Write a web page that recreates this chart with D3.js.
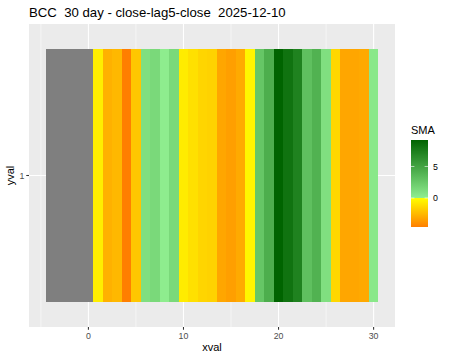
<!DOCTYPE html>
<html><head><meta charset="utf-8">
<script src="https://cdn.jsdelivr.net/npm/d3@7"></script>
<style>body{margin:0;background:#fff}svg text{font-family:"Liberation Sans",Arial,sans-serif}</style>
</head><body><svg id="c" width="450" height="360"></svg>
<script>
const title = "BCC  30 day - close-lag5-close  2025-12-10";
const xvals = d3.range(-4, 31);
const smaVals = [null,null,null,null,null,
  -0.6,-2.8,-2.55,-4.6,-2.0,1.0,1.4,0.1,1.4,-0.7,
  -1.1,-1.5,-1.6,-3.2,-3.45,-3.05,-0.35,2.7,4.3,9.2,
  8.2,7.2,3.1,4.0,1.0,-1.45,-3.2,-3.2,-3.1,0.4];
const xTicks = [0,10,20,30];
const xMinor = [-5,5,15,25];
const yCats = ["1"];
const legendTicks = [0,5];

const svg = d3.select("#c");
const P = {l:29, r:395, t:24, b:327};
const xMin = -4.5, xMax = 30.5, ext = (xMax-xMin)*0.05;
const x = d3.scaleLinear().domain([xMin-ext, xMax+ext]).range([P.l, P.r]);
const y = d3.scaleLinear().domain([0.4,1.6]).range([P.b, P.t]);

const vmin = d3.min(smaVals), vmax = d3.max(smaVals);
const neg = d3.scaleLinear().domain([vmin,0]).range(["#ff7f00","#ffff00"]).interpolate(d3.interpolateRgb);
const pos = d3.scaleLinear().domain([0,vmax]).range(["#90ee90","#006400"]).interpolate(d3.interpolateRgb);
const fill = v => v==null ? "#7f7f7f" : (v<0 ? neg(v) : pos(v));

// panel
svg.append("rect").attr("x",P.l).attr("y",P.t).attr("width",P.r-P.l).attr("height",P.b-P.t).attr("fill","#ebebeb");
svg.selectAll(".mn").data(xMinor).join("line").attr("x1",d=>x(d)).attr("x2",d=>x(d)).attr("y1",P.t).attr("y2",P.b).attr("stroke","#fff").attr("stroke-width",0.53);
svg.selectAll(".mj").data(xTicks).join("line").attr("x1",d=>x(d)).attr("x2",d=>x(d)).attr("y1",P.t).attr("y2",P.b).attr("stroke","#fff").attr("stroke-width",1.07);
svg.append("line").attr("x1",P.l).attr("x2",P.r).attr("y1",y(1)).attr("y2",y(1)).attr("stroke","#fff").attr("stroke-width",1.07);

// tiles
svg.selectAll(".t").data(xvals.map((xv,i)=>({x:xv,v:smaVals[i]}))).join("rect")
  .attr("x",d=>x(d.x-0.5)).attr("width",d=>x(d.x+0.5)-x(d.x-0.5))
  .attr("y",y(1.5)).attr("height",y(0.5)-y(1.5))
  .attr("fill",d=>fill(d.v)).attr("shape-rendering","crispEdges");

// x axis
const xa = svg.append("g");
xTicks.forEach(t=>{
  xa.append("line").attr("x1",x(t)).attr("x2",x(t)).attr("y1",P.b).attr("y2",P.b+2.75).attr("stroke","#333").attr("stroke-width",1.07);
  xa.append("text").attr("x",x(t)).attr("y",P.b+11.5).attr("text-anchor","middle").attr("font-size",8.8).attr("fill","#4d4d4d").text(t);
});
svg.append("text").attr("x",(P.l+P.r)/2).attr("y",351).attr("text-anchor","middle").attr("font-size",11).attr("fill","#000").text("xval");

// y axis
yCats.forEach((c,i)=>{
  svg.append("line").attr("x1",P.l-2.75).attr("x2",P.l).attr("y1",y(i+1)).attr("y2",y(i+1)).attr("stroke","#333").attr("stroke-width",1.07);
  svg.append("text").attr("x",P.l-4.5).attr("y",y(i+1)+3.1).attr("text-anchor","end").attr("font-size",8.8).attr("fill","#4d4d4d").text(c);
});
svg.append("text").attr("transform",`translate(13.5,${(P.t+P.b)/2}) rotate(-90)`).attr("text-anchor","middle").attr("font-size",11).attr("fill","#000").text("yval");

// title
svg.append("text").attr("x",P.l).attr("y",17).attr("font-size",13.2).attr("fill","#000").style("white-space","pre").text(title);

// legend
const L = {x:411, y:140, w:17, h:87};
svg.append("text").attr("x",L.x).attr("y",L.y-6).attr("font-size",11).attr("fill","#000").text("SMA");
const ly = d3.scaleLinear().domain([vmin,vmax]).range([L.y+L.h, L.y]);
const defs = svg.append("defs");
const grad = defs.append("linearGradient").attr("id","g").attr("x1",0).attr("x2",0).attr("y1",1).attr("y2",0);
const stops = d3.range(0,61).map(i=>vmin+(vmax-vmin)*i/60);
const eps = 1e-6;
const stopVals = [...stops.filter(v=>v<0), -eps, eps, ...stops.filter(v=>v>0)].sort((a,b)=>a-b);
stopVals.forEach(v=>grad.append("stop").attr("offset",(v-vmin)/(vmax-vmin)).attr("stop-color",v<0?neg(Math.min(v,0)):pos(Math.max(v,0))));
svg.append("rect").attr("x",L.x).attr("y",L.y).attr("width",L.w).attr("height",L.h).attr("fill","url(#g)");
legendTicks.forEach(t=>{
  svg.append("line").attr("x1",L.x).attr("x2",L.x+3.4).attr("y1",ly(t)).attr("y2",ly(t)).attr("stroke","#fff").attr("stroke-width",0.6);
  svg.append("line").attr("x1",L.x+L.w-3.4).attr("x2",L.x+L.w).attr("y1",ly(t)).attr("y2",ly(t)).attr("stroke","#fff").attr("stroke-width",0.6);
  svg.append("text").attr("x",L.x+L.w+5).attr("y",ly(t)+3.1).attr("font-size",8.8).attr("fill","#000").text(t);
});
</script></body></html>
